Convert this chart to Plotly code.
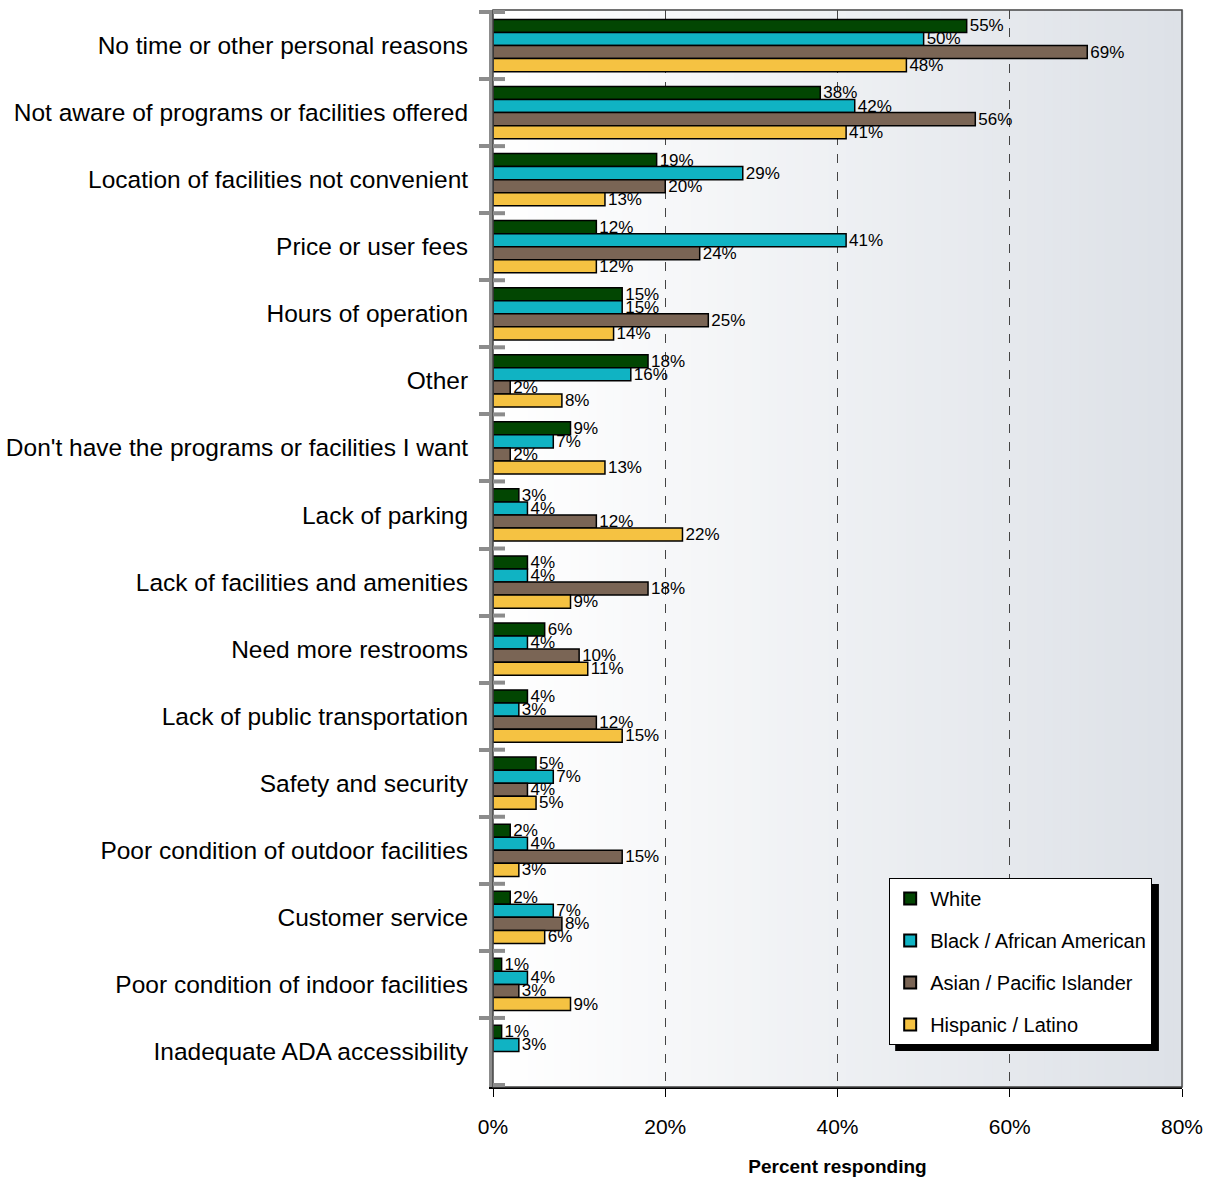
import plotly.graph_objects as go

categories = [
    "No time or other personal reasons",
    "Not aware of programs or facilities offered",
    "Location of facilities not convenient",
    "Price or user fees",
    "Hours of operation",
    "Other",
    "Don't have the programs or facilities I want",
    "Lack of parking",
    "Lack of facilities and amenities",
    "Need more restrooms",
    "Lack of public transportation",
    "Safety and security",
    "Poor condition of outdoor facilities",
    "Customer service",
    "Poor condition of indoor facilities",
    "Inadequate ADA accessibility",
]

white = [55, 38, 19, 12, 15, 18, 9, 3, 4, 6, 4, 5, 2, 2, 1, 1]
black_aa = [50, 42, 29, 41, 15, 16, 7, 4, 4, 4, 3, 7, 4, 7, 4, 3]
asian_pi = [69, 56, 20, 24, 25, 2, 2, 12, 18, 10, 12, 4, 15, 8, 3, None]
hispanic = [48, 41, 13, 12, 14, 8, 13, 22, 9, 11, 15, 5, 3, 6, 9, None]

series_names = ["White", "Black / African American", "Asian / Pacific Islander", "Hispanic / Latino"]
series_values = [white, black_aa, asian_pi, hispanic]
series_colors = ["#024602", "#10b3c3", "#7a6555", "#f5c242"]

x_ticks = [0, 20, 40, 60, 80]
x_tick_labels = ["0%", "20%", "40%", "60%", "80%"]

FONT = "Liberation Sans, Arial, sans-serif"

fig = go.Figure()
for i, (name, vals, col) in enumerate(zip(series_names, series_values, series_colors)):
    fig.add_trace(go.Bar(
        y=categories, x=vals, name=name, orientation="h",
        marker=dict(color=col, line=dict(color="#000000", width=1.5)),
        text=[("" if v is None else f"{v}%") for v in vals],
        textposition="outside", constraintext="none", cliponaxis=False,
        textfont=dict(family=FONT, size=17, color="#000000"),
        legendgroup=f"g{i}",
    ))

# background gradient (white -> light grey-blue)
shapes = []
n = 80
c0 = (255, 255, 255)
c1 = (221, 225, 231)
for k in range(n):
    t = k / (n - 1)
    col = tuple(int(round(c0[j] + (c1[j] - c0[j]) * t)) for j in range(3))
    shapes.append(dict(type="rect", xref="paper", yref="paper",
                       x0=k / n, x1=(k + 1) / n + 0.002, y0=0, y1=1,
                       fillcolor="rgb(%d,%d,%d)" % col, line=dict(width=0), layer="below"))
# frame
shapes.append(dict(type="rect", xref="paper", yref="paper", x0=0, x1=1, y0=0, y1=1,
                   line=dict(color="#444444", width=1.5), fillcolor="rgba(0,0,0,0)", layer="above"))
# inner part of the category boundary ticks (ticks cross the axis line)
for b in range(len(categories) + 1):
    shapes.append(dict(type="line", xref="paper", yref="y",
                       x0=0, x1=12 / 689, y0=b - 0.5, y1=b - 0.5,
                       line=dict(color="#8c8c8c", width=4), layer="above"))
# legend shadow
shapes.append(dict(type="rect", xref="paper", yref="paper",
                   x0=0.5837, x1=0.9665, y0=0.0334, y1=0.1885,
                   fillcolor="#000000", line=dict(width=0), layer="above"))
fig.update_layout(shapes=shapes)

fig.update_layout(
    width=1208, height=1178,
    margin=dict(l=493, r=26, t=10, b=91, autoexpand=False),
    paper_bgcolor="#ffffff", plot_bgcolor="rgba(0,0,0,0)",
    barmode="group", bargap=0.22, bargroupgap=0,
    font=dict(family=FONT, color="#000000"),
    showlegend=True,
    legend=dict(
        x=0.575, y=0.194, xanchor="left", yanchor="top",
        bgcolor="#ffffff", bordercolor="#000000", borderwidth=1,
        font=dict(family=FONT, size=20, color="#000000"),
        traceorder="grouped", tracegroupgap=13,
        itemsizing="constant",
    ),
    xaxis=dict(
        range=[0, 80], tickvals=x_ticks, ticktext=x_tick_labels, automargin=False,
        showgrid=True, gridcolor="#444444", griddash="dash", gridwidth=1,
        zeroline=False, showline=True, linecolor="#000000", linewidth=2,
        ticks="outside", ticklen=8, tickcolor="#000000",
        tickfont=dict(family=FONT, size=21, color="#000000"),
        ticklabelstandoff=12,
        title=dict(text="<b>Percent responding</b>", font=dict(family=FONT, size=19, color="#000000"), standoff=22),
    ),
    yaxis=dict(
        autorange="reversed", type="category", automargin=False,
        showline=True, linecolor="#8c8c8c", linewidth=4,
        ticks="outside", tickson="boundaries", ticklen=10, tickcolor="#8c8c8c", tickwidth=4,
        tickfont=dict(family=FONT, size=24.5, color="#000000"),
        ticklabelstandoff=16,
        showgrid=False, zeroline=False,
    ),
)

fig.write_html("out.html")
